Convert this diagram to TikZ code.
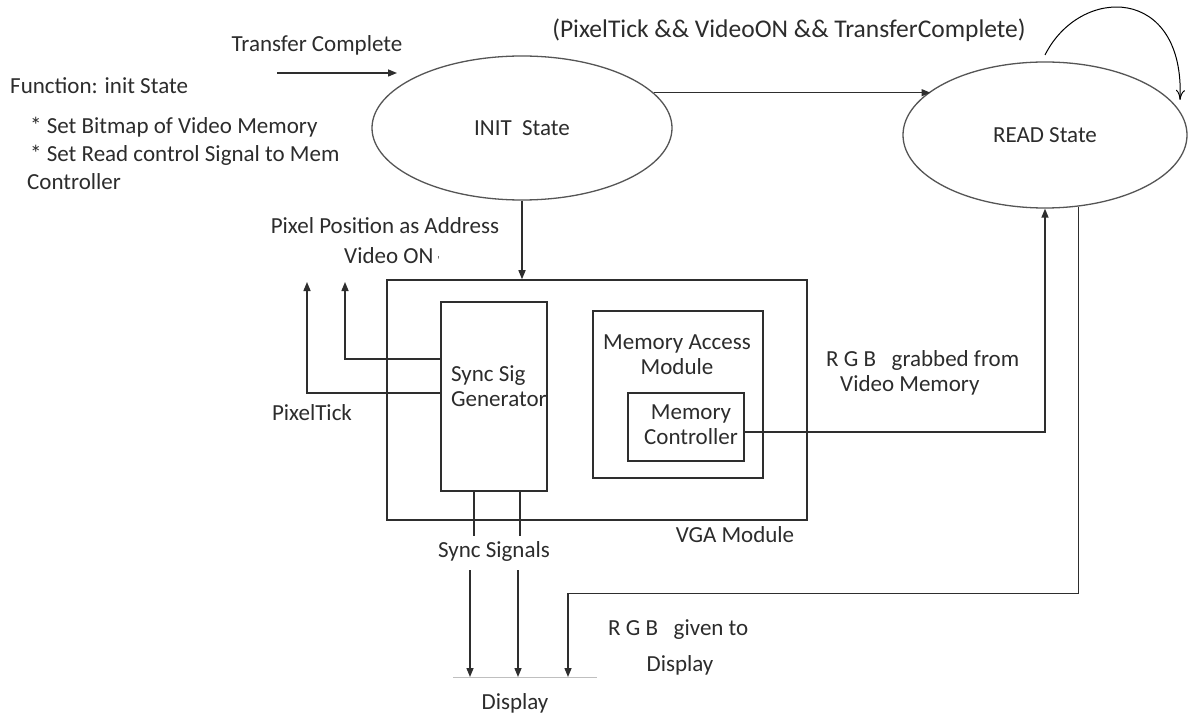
\documentclass[tikz,border=0pt]{standalone}
\usepackage{fontspec}
\setmainfont{Carlito}
\usetikzlibrary{shapes.geometric,arrows.meta,calc}
\definecolor{txtc}{HTML}{2C2C2C}
\definecolor{linec}{HTML}{2E2E2E}
\definecolor{ellc}{HTML}{555555}
\begin{document}
\begin{tikzpicture}[x=1pt,y=-1pt,
  lbl/.style={font=\fontsize{23}{25}\selectfont, text=txtc, inner sep=0pt},
  box/.style={draw=linec, line width=1.5pt, inner sep=0pt},
  state/.style={ellipse, draw=ellc, line width=1.3pt, inner sep=0pt, font=\fontsize{23}{25}\selectfont, text=txtc},
  arr/.style={-{Triangle[length=9pt,width=7pt]}, draw=linec, line width=1.4pt},
  wire/.style={draw=linec, line width=1.4pt},
  loopc/.style={-{To[length=10pt,width=9pt]}, draw=black, line width=1pt}]
\useasboundingbox[fill=white] (0,0) rectangle (1188,719);

% states
\node[state, minimum width=300pt, minimum height=144pt] (init) at (522,128) {INIT\ \ State};
\node[state, minimum width=284pt, minimum height=146pt] (read) at (1045,135) {READ State};

% boxes
\node[box, minimum width=420pt, minimum height=240pt] (vga) at (597,400) {};
\node[box, minimum width=106pt, minimum height=189pt] (syncgen) at (494,396.5) {};
\node[box, minimum width=170pt, minimum height=167pt] (memacc) at (678,394.5) {};
\node[box, minimum width=116pt, minimum height=68pt] (memctl) at (686,427) {};

% texts
\node[lbl, font=\fontsize{25.5}{27}\selectfont] (cond) at (789,30) {(PixelTick \&\& VideoON \&\& TransferComplete)};
\node[lbl] (tc) at (317,45) {Transfer Complete};
\node[lbl,anchor=west] (fn) at (10,86) {Function: init State};
\node[lbl,anchor=west] (b1) at (30,127) {* Set Bitmap of Video Memory};
\node[lbl,anchor=west] (b2) at (30,155) {* Set Read control Signal to Mem};
\node[lbl,anchor=west] (b3) at (27,182) {Controller};
\node[lbl] (ppa) at (385,226) {Pixel Position as Address};
\node[lbl] (von) at (392,256) {Video ON\,{\fontsize{10}{10}\selectfont '}};
\node[lbl] (ptk) at (312,413) {PixelTick};
\node[lbl,align=left,anchor=west] (sgT) at (451,386) {Sync Sig\\Generator};
\node[lbl,align=center] (maT) at (677,355) {Memory Access\\Module};
\node[lbl,align=center] (mcT) at (691,425) {Memory\\Controller};
\node[lbl,align=left,anchor=west] (rgbT) at (826,373) {R G B\ \ \ grabbed from\\\hspace*{14pt}Video Memory};
\node[lbl] (vgaT) at (735,535) {VGA Module};
\node[lbl] (ssT) at (494,551) {Sync Signals};
\node[lbl,anchor=west] (rgb2) at (608,630) {R G B\ \ \ given to};
\node[lbl] (disp2) at (680,665) {Display};
\node[lbl] (disp) at (515,703) {Display};

% free-end coordinates
\coordinate (tcS) at (277,73);
\coordinate (tcE) at (397,73);
\coordinate (loopS) at (1045,55);
\coordinate (loopE) at (1180,100);
\coordinate (vOn) at (345,282);
\coordinate (pTk) at (307,282);
\coordinate (s1T) at (470,570);
\coordinate (s1B) at (470,677);
\coordinate (s2T) at (518,570);
\coordinate (s2B) at (518,677);
\coordinate (dispR) at (568,677);
\coordinate (dlL) at (453,677);
\coordinate (dlR) at (597,677);

% connectors
\draw[arr] (tcS) -- (tcE);
\draw[arr] (init.15.5) -- (init.15.5 -| read.159.3);
\draw[loopc] (loopS) .. controls (1080,-15) and (1185,-15) .. (loopE);
\draw[arr] (init.south) -- (init.south |- vga.north);
\draw[arr] ([yshift=37.5pt]syncgen.west) -| (vOn);
\draw[arr] ([yshift=3.5pt]syncgen.west) -| (pTk);
\draw[arr] ([yshift=-5pt]memctl.east) -| (read.south);
\draw[arr] (read.-65) -- ++(0,387) -| (dispR);
\draw[wire] ([xshift=-20pt]syncgen.south) -- ++(0,44);
\draw[wire] ([xshift=26pt]syncgen.south) -- ++(0,44);
\draw[arr] (s1T) -- (s1B);
\draw[arr] (s2T) -- (s2B);
\draw[draw=black!25, line width=0.8pt] (dlL) -- (dlR);
\end{tikzpicture}
\end{document}
